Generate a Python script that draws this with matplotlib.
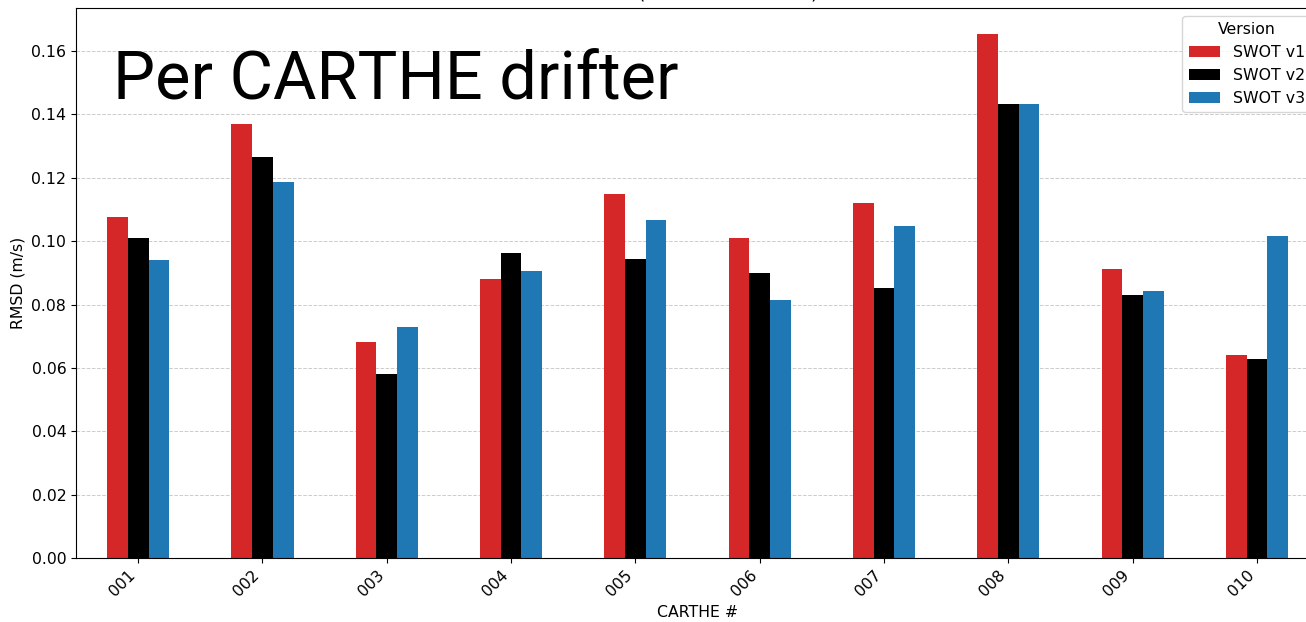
import matplotlib
matplotlib.use('Agg')
import matplotlib.pyplot as plt
import pandas as pd

drifters = ['001', '002', '003', '004', '005', '006', '007', '008', '009', '010']
swot_v1 = [0.1076, 0.1370, 0.0682, 0.0880, 0.1149, 0.1010, 0.1120, 0.1654, 0.0912, 0.0641]
swot_v2 = [0.1010, 0.1265, 0.0581, 0.0963, 0.0944, 0.0899, 0.0852, 0.1433, 0.0830, 0.0628]
swot_v3 = [0.0940, 0.1187, 0.0729, 0.0906, 0.1067, 0.0814, 0.1048, 0.1433, 0.0843, 0.1016]

plt.rcParams['font.size'] = 11.3

df = pd.DataFrame({'SWOT v1': swot_v1, 'SWOT v2': swot_v2, 'SWOT v3': swot_v3}, index=drifters)

fig = plt.figure(figsize=(13.06, 6.22), dpi=100)
ax = fig.add_axes([0.0582, 0.1029, 0.9518, 0.8842])
df.plot.bar(ax=ax, color=['#d62728', 'black', '#1f77b4'])
ax.set_ylim(0, 0.1736)
ax.set_xlabel('CARTHE #')
ax.set_ylabel('RMSD (m/s)')
ax.set_title('RMSD (SWOT vs CARTHE)', y=1.0, pad=7)
plt.setp(ax.get_xticklabels(), rotation=45, ha='right')
ax.grid(axis='y', linestyle='--', color='#cccccc', linewidth=0.7)
ax.set_axisbelow(True)
ax.legend(title='Version', loc='upper right')
fig.text(0.0865, 0.84, 'Per CARTHE drifter', fontsize=48, family='Roboto', color='black')

fig.savefig('out.png', dpi=100)
